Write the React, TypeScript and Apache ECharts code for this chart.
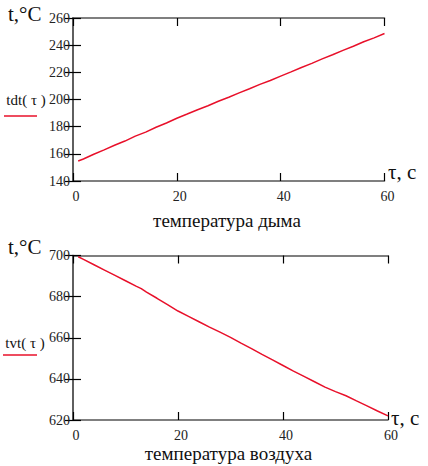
import React, { useEffect, useRef } from "react";
import * as echarts from "echarts";

const tauSmoke = [1, 2, 4, 6, 8, 10, 12, 14, 16, 18, 20, 22, 24, 26, 28, 30, 32, 34, 36, 38, 40, 42, 44, 46, 48, 50, 52, 54, 56, 58, 60];
const tdtValues = [154.7, 156.2, 159.7, 162.9, 166.3, 169.4, 173.0, 176.0, 179.6, 182.7, 186.2, 189.3, 192.5, 195.4, 198.7, 201.7, 204.9, 207.9, 211.1, 214.0, 217.2, 220.3, 223.6, 226.6, 229.9, 232.9, 236.2, 239.2, 242.5, 245.4, 248.6];

const tauAir = [1, 2, 4, 6, 8, 10, 12, 13, 14, 16, 18, 20, 22, 24, 26, 28, 30, 32, 34, 36, 38, 40, 42, 44, 46, 48, 50, 52, 54, 56, 58, 60];
const tvtValues = [699.4, 698.1, 695.5, 692.9, 690.3, 687.7, 685.1, 683.9, 682.2, 679.2, 676.1, 673.0, 670.4, 667.8, 665.2, 662.7, 660.2, 657.4, 654.7, 651.9, 649.2, 646.5, 643.8, 641.2, 638.6, 636.0, 633.8, 631.8, 629.3, 626.9, 624.4, 622.0];

const xTicks = { min: 0, max: 60, interval: 20 };
const ySmoke = { min: 140, max: 260, interval: 20 };
const yAir = { min: 620, max: 700, interval: 20 };

const titleSmoke = "температура дыма";
const titleAir = "температура воздуха";
const yName = "t,°C";
const xName = "τ, с";
const legendSmoke = "tdt( τ )";
const legendAir = "tvt( τ )";

const RED = "#e8102a";
const FONT = "Liberation Serif";
const BOX = "#555555";

export default function App() {
  const ref = useRef<HTMLDivElement>(null);
  useEffect(() => {
    if (!ref.current) return;
    const chart = echarts.init(ref.current, null, { renderer: "svg" });

    const mkX = (gridIndex: number, position: "bottom" | "top", labels: boolean) => ({
      type: "value",
      gridIndex,
      position,
      min: xTicks.min,
      max: xTicks.max,
      interval: xTicks.interval,
      axisLine: { show: true, lineStyle: { color: BOX, width: 1.5 } },
      axisTick: { show: true, inside: true, length: 8, lineStyle: { color: "#000", width: 1.2 } },
      axisLabel: {
        show: labels,
        margin: 8,
        fontFamily: FONT,
        fontSize: 14,
        color: "#222",
        padding: [0, 0, 0, 6],
      },
      splitLine: { show: false },
    });
    const mkY = (gridIndex: number, position: "left" | "right", labels: boolean, r: { min: number; max: number; interval: number }) => ({
      type: "value",
      gridIndex,
      position,
      min: r.min,
      max: r.max,
      interval: r.interval,
      axisLine: { show: true, lineStyle: { color: BOX, width: 1.5 } },
      axisTick: { show: true, inside: true, length: 8, lineStyle: { color: "#000", width: 1.2 } },
      axisLabel: {
        show: labels,
        margin: 3,
        fontFamily: FONT,
        fontSize: 14,
        color: "#222",
      },
      splitLine: { show: false },
    });

    const txt = (x: number, y: number, text: string, size: number, align = "left", vAlign = "middle") => ({
      type: "text",
      x,
      y,
      style: {
        text,
        fontFamily: FONT,
        fontSize: size,
        fill: "#111",
        align,
        verticalAlign: vAlign,
      },
    });

    chart.setOption({
      animation: false,
      backgroundColor: "#fff",
      grid: [
        { left: 73, top: 18, width: 311.5, height: 163 },
        { left: 73, top: 255.5, width: 315, height: 164.5 },
      ],
      xAxis: [mkX(0, "bottom", true), mkX(0, "top", false), mkX(1, "bottom", true), mkX(1, "top", false)],
      yAxis: [
        mkY(0, "left", true, ySmoke),
        mkY(0, "right", false, ySmoke),
        mkY(1, "left", true, yAir),
        mkY(1, "right", false, yAir),
      ],
      series: [
        {
          type: "line",
          xAxisIndex: 0,
          yAxisIndex: 0,
          data: tauSmoke.map((t, i) => [t, tdtValues[i]]),
          showSymbol: false,
          lineStyle: { color: RED, width: 1.5 },
        },
        {
          type: "line",
          xAxisIndex: 2,
          yAxisIndex: 2,
          data: tauAir.map((t, i) => [t, tvtValues[i]]),
          showSymbol: false,
          lineStyle: { color: RED, width: 1.5 },
        },
      ],
      graphic: [
        txt(8, 14, yName, 21),
        txt(388, 172, xName, 21),
        txt(227, 220, titleSmoke, 19, "center"),
        txt(26, 100, legendSmoke, 15, "center"),
        { type: "line", shape: { x1: 4, y1: 116, x2: 37, y2: 116 }, style: { stroke: RED, lineWidth: 1.5 } },
        txt(8, 247, yName, 21),
        txt(391, 418, xName, 21),
        txt(228.5, 453, titleAir, 19, "center"),
        txt(25, 343, legendAir, 15, "center"),
        { type: "line", shape: { x1: 3, y1: 355, x2: 37, y2: 355 }, style: { stroke: RED, lineWidth: 1.5 } },
      ],
    });
    return () => chart.dispose();
  }, []);
  return <div ref={ref} style={{ position: "fixed", left: 0, top: 0, width: 428, height: 466 }} />;
}
